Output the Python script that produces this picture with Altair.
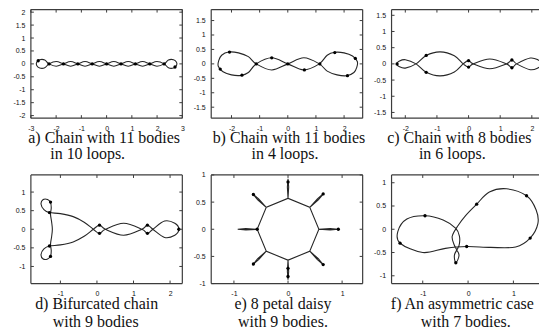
import altair as alt
import pandas as pd

# ---------------------------------------------------------------------------
# Orbits traced along the closed path (x, y) in drawing order, plus the
# positions of the bodies on each orbit.
# ---------------------------------------------------------------------------

# a) chain with 11 bodies in 10 loops
A_X = [-2.28, -1.995, -1.71, -1.425, -1.14, -0.855, -0.57, -0.285, 0.0, 0.285, 0.57, 0.855, 1.14, 1.425, 1.71, 1.995, 2.28,
       2.45, 2.65, 2.77, 2.77, 2.65, 2.45,
       2.28, 1.995, 1.71, 1.425, 1.14, 0.855, 0.57, 0.285, 0.0, -0.285, -0.57, -0.855, -1.14, -1.425, -1.71, -1.995, -2.28,
       -2.45, -2.65, -2.77, -2.77, -2.65, -2.45]
A_Y = [0, 0.09, 0, -0.09, 0, 0.09, 0, -0.09, 0, 0.09, 0, -0.09, 0, 0.09, 0, -0.09, 0,
       0.15, 0.16, 0.06, -0.06, -0.16, -0.15,
       0, 0.09, 0, -0.09, 0, 0.09, 0, -0.09, 0, 0.09, 0, -0.09, 0, 0.09, 0, -0.09, 0,
       0.15, 0.16, 0.06, -0.06, -0.16, -0.15]
A_BX = [-2.71, -2.28, -1.71, -1.14, -0.57, 0.0, 0.57, 1.14, 1.71, 2.28, 2.71]
A_BY = [0.12, 0, 0, 0, 0, 0, 0, 0, 0, 0, -0.12]

# b) chain with 11 bodies in 4 loops
B_X = [-1.12, -0.57, 0.0, 0.57, 1.12,
       1.4, 1.67, 2.0, 2.3, 2.47, 2.45, 2.35, 2.1, 1.75, 1.4,
       1.12, 0.57, 0.0, -0.57, -1.12,
       -1.4, -1.75, -2.1, -2.35, -2.45, -2.47, -2.3, -2.0, -1.67, -1.4]
B_Y = [0, 0.21, 0, -0.21, 0,
       0.3, 0.40, 0.38, 0.27, 0.08, -0.12, -0.3, -0.41, -0.38, -0.25,
       0, 0.21, 0, -0.21, 0,
       0.25, 0.38, 0.41, 0.3, 0.12, -0.08, -0.27, -0.38, -0.40, -0.3]
B_BX = [-2.07, -2.4, -1.63, -1.12, -0.57, 0.0, 0.59, 1.14, 1.67, 2.4, 2.12]
B_BY = [0.41, -0.18, -0.39, 0.0, 0.21, 0.0, -0.21, 0.0, 0.39, 0.19, -0.41]

# c) chain with 8 bodies in 6 loops
C_X = [-1.66, -1.34, -0.9, -0.45, -0.17, 0.0, 0.15, 0.67, 1.2, 1.37, 1.52,
       1.95, 2.2, 2.32, 2.2, 1.95,
       1.52, 1.37, 1.2, 0.67, 0.15, 0.0, -0.17,
       -0.45, -0.9, -1.34, -1.66,
       -2.0, -2.2, -2.27, -2.2, -2.0]
C_Y = [0, 0.26, 0.37, 0.25, 0, -0.1, 0, 0.15, 0, -0.12, 0,
       0.18, 0.12, 0, -0.12, -0.18,
       0, 0.12, 0, -0.15, 0, 0.1, 0,
       -0.25, -0.37, -0.26, 0,
       0.13, 0.08, 0, -0.08, -0.13]
C_BX = [-2.26, -1.34, -1.34, 0.0, 0.0, 1.37, 1.37, 2.32]
C_BY = [0.0, 0.26, -0.26, 0.1, -0.1, 0.12, -0.12, 0.0]

# d) bifurcated chain with 9 bodies
D_X = [-0.1, -0.35, -0.65, -1.0, -1.3, -1.45, -1.53, -1.47, -1.35, -1.27, -1.25, -1.27, -1.24, -1.22,
       -1.24, -1.27, -1.25, -1.27, -1.35, -1.47, -1.53, -1.45, -1.3, -1.0, -0.65, -0.35, -0.1,
       0.07, 0.23, 0.73, 1.23, 1.38, 1.53, 1.85, 2.13, 2.24, 2.13, 1.85, 1.53, 1.38, 1.23, 0.73, 0.23, 0.07]
D_Y = [0, 0.19, 0.34, 0.42, 0.45, 0.53, 0.68, 0.8, 0.8, 0.72, 0.58, 0.4, 0.2, 0,
       -0.2, -0.4, -0.58, -0.72, -0.8, -0.8, -0.68, -0.53, -0.45, -0.42, -0.34, -0.19, 0,
       0.11, 0, -0.16, 0, 0.11, 0, -0.22, -0.16, 0, 0.16, 0.22, 0, -0.11, 0, 0.16, 0, -0.11]
D_BX = [-1.3, -1.27, -1.3, -1.27, 0.07, 0.07, 1.38, 1.38, 2.24]
D_BY = [0.45, 0.73, -0.45, -0.73, 0.11, -0.11, 0.11, -0.11, 0.0]

# e) 8 petal daisy with 9 bodies (ring vertex, petal side, tip, other side, vertex)
E_X = [0.0, -0.012, 0.0, 0.012, 0.0,
       0.403, 0.543, 0.658, 0.560, 0.403,
       0.57, 0.78, 0.93, 0.78, 0.57,
       0.403, 0.560, 0.658, 0.543, 0.403,
       0.0, 0.012, 0.0, -0.012, 0.0,
       -0.403, -0.543, -0.658, -0.560, -0.403,
       -0.57, -0.78, -0.93, -0.78, -0.57,
       -0.403, -0.560, -0.658, -0.543, -0.403]
E_Y = [0.57, 0.78, 0.93, 0.78, 0.57,
       0.403, 0.560, 0.658, 0.543, 0.403,
       0.0, 0.012, 0.0, -0.012, 0.0,
       -0.403, -0.543, -0.658, -0.560, -0.403,
       -0.57, -0.78, -0.93, -0.78, -0.57,
       -0.403, -0.560, -0.658, -0.543, -0.403,
       0.0, -0.012, 0.0, 0.012, 0.0,
       0.403, 0.543, 0.658, 0.560, 0.403]
E_BX = [0.0, 0.65, 0.93, 0.65, 0.0, -0.64, -0.57, -0.64, 0.0]
E_BY = [0.87, 0.65, 0.0, -0.65, -0.87, -0.64, 0.0, 0.64, -0.72]

# f) an asymmetric case with 7 bodies
F_X = [0.19, 0.47, 0.85, 1.29, 1.5, 1.54, 1.37, 1.05, 0.5, -0.03, -0.5, -1.0, -1.5, -1.55, -1.35,
       -0.95, -0.55, -0.27, -0.19, -0.2, -0.3, -0.27, -0.2, -0.3, -0.35, -0.22, -0.05]
F_Y = [0.54, 0.80, 0.87, 0.72, 0.42, 0.12, -0.19, -0.38, -0.39, -0.37, -0.41, -0.5, -0.3, -0.05, 0.22,
       0.29, 0.2, 0.02, -0.15, -0.35, -0.55, -0.72, -0.55, -0.35, -0.15, 0.08, 0.3]
F_BX = [0.19, 1.29, 1.37, -0.03, -1.5, -0.95, -0.27]
F_BY = [0.54, 0.72, -0.19, -0.37, -0.3, 0.29, -0.72]

# Tick values of every panel
A_XT = [-3, -2, -1, 0, 1, 2, 3]
A_YT = [-2, -1.5, -1, -0.5, 0, 0.5, 1, 1.5, 2]
B_XT = [-2, -1, 0, 1, 2]
B_YT = [-1.5, -1, -0.5, 0, 0.5, 1, 1.5]
C_XT = [-2, -1, 0, 1, 2]
C_YT = [-1.5, -1, -0.5, 0, 0.5, 1, 1.5]
D_XT = [-1, 0, 1, 2]
D_YT = [-1, -0.5, 0, 0.5, 1]
E_XT = [-1, 0, 1]
E_YT = [-1, -0.5, 0, 0.5, 1]
F_XT = [-1, 0, 1]
F_YT = [-1, -0.5, 0, 0.5, 1]

CAP_A = ["a) Chain with 11 bodies", "in 10 loops."]
CAP_B = ["b) Chain with 11 bodies", "in 4 loops."]
CAP_C = ["c) Chain with 8 bodies", "in 6 loops."]
CAP_D = ["d) Bifurcated chain", "with 9 bodies"]
CAP_E = ["e) 8 petal daisy", "with 9 bodies."]
CAP_F = ["f) An asymmetric case", "with 7 bodies."]

# ---------------------------------------------------------------------------
H = 109
CURVE = "#262626"
FRAME = "#3c3c3c"
SERIF = "Liberation Serif"
SANS = "Liberation Sans"


def panel(px, py, bx, by, xdom, ydom, xticks, yticks, caption, cap_x, cap_y,
          width, interp="cardinal-closed", right_edge=True):
    xs = alt.Scale(domain=xdom, nice=False, zero=False)
    ys = alt.Scale(domain=ydom, nice=False, zero=False)
    path = pd.DataFrame({"x": px, "y": py, "i": list(range(len(px)))})
    bodies = pd.DataFrame({"x": bx, "y": by})
    xt = pd.DataFrame({"x": xticks})
    yt = pd.DataFrame({"y": yticks})
    one = pd.DataFrame({"k": [0]})

    x_axis = alt.Axis(values=xticks, labelPadding=6, labelFlush=False,
                      labelOverlap=False, ticks=False, tickSize=0, domain=False, grid=False,
                      labelExpr="'' + datum.value")
    y_axis = alt.Axis(values=yticks, labelPadding=6, labelFlush=False,
                      labelOverlap=False, ticks=False, tickSize=0, domain=False, grid=False,
                      labelExpr="'' + datum.value")
    xenc = alt.X("x:Q", scale=xs, axis=x_axis, title=None)
    yenc = alt.Y("y:Q", scale=ys, axis=y_axis, title=None)

    layers = []
    # orbit and bodies
    layers.append(alt.Chart(path).mark_line(interpolate=interp, clip=True, color=CURVE,
                                            strokeWidth=1.1).encode(
        x=xenc, y=yenc, order=alt.Order("i:Q")))
    layers.append(alt.Chart(bodies).mark_circle(size=11, color="#000000", opacity=1, clip=True).encode(
        x=xenc, y=yenc))

    # frame
    rule = dict(color=FRAME, strokeWidth=1.2)
    layers.append(alt.Chart(one).mark_rule(**rule).encode(
        x=alt.value(0), x2=alt.value(width), y=alt.value(0)))
    layers.append(alt.Chart(one).mark_rule(**rule).encode(
        x=alt.value(0), x2=alt.value(width), y=alt.value(H)))
    layers.append(alt.Chart(one).mark_rule(**rule).encode(
        x=alt.value(0), y=alt.value(0), y2=alt.value(H)))
    if right_edge:
        layers.append(alt.Chart(one).mark_rule(**rule).encode(
            x=alt.value(width), y=alt.value(0), y2=alt.value(H)))

    # inward ticks on every side
    tick = dict(color=FRAME, strokeWidth=1)
    layers.append(alt.Chart(xt).mark_rule(**tick).encode(x=xenc, y=alt.value(H), y2=alt.value(H - 3)))
    layers.append(alt.Chart(xt).mark_rule(**tick).encode(x=xenc, y=alt.value(0), y2=alt.value(3)))
    layers.append(alt.Chart(yt).mark_rule(**tick).encode(y=yenc, x=alt.value(0), x2=alt.value(3)))
    if right_edge:
        layers.append(alt.Chart(yt).mark_rule(**tick).encode(y=yenc, x=alt.value(width - 3), x2=alt.value(width)))

    # two-line caption under the panel
    for line, cx, cy in zip(caption, cap_x, cap_y):
        layers.append(alt.Chart(one).mark_text(text=line, font=SERIF, fontSize=16, color="#111111",
                                               align="center", baseline="alphabetic").encode(
            x=alt.value(cx), y=alt.value(H + cy)))

    return alt.layer(*layers).properties(width=width, height=H)


TOP_CAP = [25, 41]
LOW_CAP = [26, 44]

pa = panel(A_X, A_Y, A_BX, A_BY, [-3, 3], [-2.1, 2.1], A_XT, A_YT, CAP_A,
           [73.5, 57], TOP_CAP, 152)
pb = panel(B_X, B_Y, B_BX, B_BY, [-2.72, 2.66], [-1.88, 1.88], B_XT, B_YT, CAP_B,
           [78, 74], TOP_CAP, 152)
pc = panel(C_X, C_Y, C_BX, C_BY, [-2.435, 2.227], [-1.677, 1.677], C_XT, C_YT, CAP_C,
           [68, 61], TOP_CAP, 148, right_edge=False)
pd_ = panel(D_X, D_Y, D_BX, D_BY, [-1.807, 2.335], [-1.46, 1.46], D_XT, D_YT, CAP_D,
            [66, 65], LOW_CAP, 152)
pe = panel(E_X, E_Y, E_BX, E_BY, [-1.42, 1.38], [-1.0, 1.0], E_XT, E_YT, CAP_E,
           [72, 72], LOW_CAP, 152, interp="linear-closed")
pf = panel(F_X, F_Y, F_BX, F_BY, [-1.688, 1.565], [-1.167, 1.167], F_XT, F_YT, CAP_F,
           [71, 74.5], LOW_CAP, 148, right_edge=False)

chart = alt.concat(
    pa, pb, pc, pd_, pe, pf,
    columns=3,
    spacing={"row": 57, "column": 29},
    bounds="flush",
).properties(
    padding={"left": 12, "top": 7, "right": 0, "bottom": 0},
    background="white",
).configure_view(
    stroke="transparent",
    strokeWidth=0,
).configure_axis(
    labelFont=SANS,
    labelFontSize=7,
    labelColor="#111111",
)

chart.save("out.html", embed_options={"renderer": "svg", "actions": False})
